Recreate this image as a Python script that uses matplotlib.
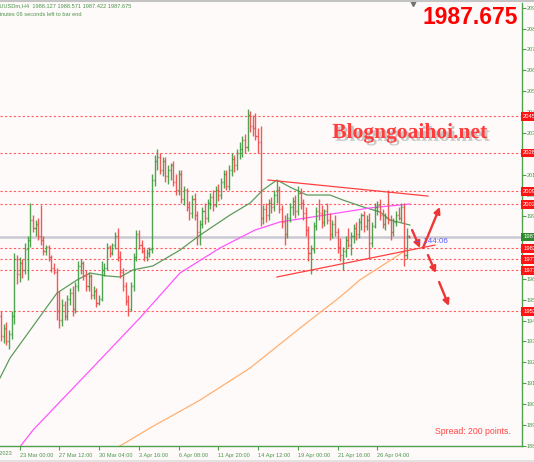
import matplotlib
matplotlib.use("Agg")
import matplotlib.pyplot as plt
import matplotlib.patheffects as pe
import numpy as np

# H4 bars (bar index 0 = first visible bar)
opens = [1950, 1940, 1944, 1938, 1941, 1950, 1977, 1970, 1975, 1972,
         1982, 1986, 1996, 1992, 1994, 1988, 1986, 1981, 1983, 1978,
         1973, 1971, 1952, 1948, 1955, 1950, 1958, 1961, 1953, 1964,
         1974, 1975, 1969, 1964, 1969, 1960, 1962, 1956, 1958, 1972,
         1973, 1983, 1980, 1984, 1988, 1978, 1971, 1964, 1957, 1953,
         1964, 1978, 1989, 1984, 1981, 1978, 1980, 1982, 2015, 2024,
         2026, 2020, 2024, 2017, 2020, 2022, 2014, 2010, 2018, 2006,
         2010, 2002, 1999, 2006, 1998, 1990, 1994, 2000, 1997, 2004,
         2007, 2003, 2010, 2008, 2014, 2018, 2012, 2020, 2025, 2022,
         2028, 2030, 2034, 2031, 2046, 2041, 2040, 2036, 2033, 1997,
         2001, 1998, 2004, 2002, 2008, 2010, 2001, 1995, 1989, 1997,
         2002, 2005, 2000, 2009, 2004, 1999, 1991, 1980, 1982, 1993,
         2000, 1999, 1995, 2000, 1996, 1989, 1994, 1990, 1983, 1979,
         1981, 1986, 1984, 1988, 1992, 1989, 1995, 1998, 1993, 1996,
         1985, 1993, 2002, 2003, 1998, 1994, 1997, 1996, 1990, 1995,
         1998, 1997, 2002, 1979, 1988.127]
highs = [1952, 1946, 1947, 1943, 1952, 1980, 1979, 1978, 1977, 1985,
         1988, 2004, 1998, 1996, 1997, 2003, 1988, 1984, 1984, 1979,
         1975, 1973, 1962, 1958, 1957, 1960, 1963, 1964, 1966, 1976,
         1977, 1976, 1972, 1971, 1970, 1964, 1963, 1960, 1976, 1975,
         1985, 1984, 1985, 1990, 1992, 1981, 1973, 1966, 1960, 1966,
         1980, 1991, 1991, 1986, 1983, 1982, 1983, 2018, 2027, 2030,
         2028, 2026, 2026, 2022, 2023, 2024, 2018, 2020, 2020, 2012,
         2011, 2005, 2008, 2009, 2000, 1996, 2002, 2004, 2006, 2009,
         2010, 2012, 2013, 2016, 2020, 2020, 2022, 2028, 2027, 2030,
         2033, 2036, 2037, 2049, 2048, 2046, 2047, 2040, 2041, 2003,
         2004, 2006, 2007, 2010, 2015, 2012, 2003, 1998, 1999, 2004,
         2007, 2008, 2012, 2011, 2006, 2002, 1993, 1984, 1995, 2002,
         2006, 2003, 2001, 2004, 1999, 1996, 1998, 1992, 1987, 1983,
         1988, 1992, 1990, 1994, 1995, 1997, 1999, 2000, 1998, 1999,
         1995, 2004, 2005, 2006, 2001, 1999, 2010, 1998, 1997, 2000,
         2002, 2004, 2004, 1992, 1988.571]
lows = [1938, 1937, 1936, 1934, 1939, 1946, 1965, 1966, 1968, 1970,
        1967, 1983, 1990, 1988, 1986, 1984, 1979, 1979, 1976, 1971,
        1970, 1948, 1944, 1945, 1948, 1948, 1955, 1950, 1951, 1962,
        1970, 1967, 1962, 1962, 1958, 1958, 1954, 1955, 1957, 1969,
        1972, 1978, 1979, 1982, 1976, 1968, 1962, 1955, 1950, 1952,
        1962, 1976, 1982, 1980, 1976, 1976, 1978, 1980, 2012, 2020,
        2018, 2017, 2014, 2013, 2015, 2012, 2008, 2008, 2004, 2003,
        2000, 1996, 1997, 1996, 1984, 1984, 1992, 1994, 1995, 2001,
        2000, 2002, 2005, 2006, 2011, 2010, 2010, 2017, 2019, 2020,
        2025, 2026, 2028, 2029, 2038, 2036, 2034, 2028, 1993, 1994,
        1995, 1996, 1999, 2000, 2004, 1999, 1992, 1984, 1987, 1995,
        1998, 1997, 1998, 2001, 1996, 1988, 1976, 1970, 1980, 1991,
        1996, 1992, 1993, 1994, 1986, 1987, 1988, 1980, 1976, 1972,
        1978, 1983, 1979, 1985, 1986, 1987, 1991, 1990, 1991, 1977,
        1983, 1992, 1998, 1996, 1992, 1991, 1994, 1986, 1988, 1993,
        1996, 1995, 1974, 1977, 1987.422]
closes = [1940, 1944, 1938, 1941, 1950, 1977, 1970, 1975, 1972, 1982,
          1986, 1996, 1992, 1994, 1988, 1986, 1981, 1983, 1978, 1973,
          1971, 1952, 1948, 1955, 1950, 1958, 1961, 1953, 1964, 1974,
          1975, 1969, 1964, 1969, 1960, 1962, 1956, 1958, 1972, 1973,
          1983, 1980, 1984, 1988, 1978, 1971, 1964, 1957, 1953, 1964,
          1978, 1989, 1984, 1981, 1978, 1980, 1982, 2015, 2024, 2026,
          2020, 2024, 2017, 2020, 2022, 2014, 2010, 2018, 2006, 2010,
          2002, 1999, 2006, 1998, 1990, 1994, 2000, 1997, 2004, 2007,
          2003, 2010, 2008, 2014, 2018, 2012, 2020, 2025, 2022, 2028,
          2030, 2034, 2031, 2046, 2041, 2040, 2036, 2033, 1997, 2001,
          1998, 2004, 2002, 2008, 2010, 2001, 1995, 1989, 1997, 2002,
          2005, 2000, 2009, 2004, 1999, 1991, 1980, 1982, 1993, 2000,
          1999, 1995, 2000, 1996, 1989, 1994, 1990, 1983, 1979, 1981,
          1986, 1984, 1988, 1992, 1989, 1995, 1998, 1993, 1996, 1985,
          1993, 2002, 2003, 1998, 1994, 1997, 1996, 1990, 1995, 1998,
          1997, 2002, 1979, 1988.127, 1987.675]

last_price = 1987.675

# time axis labels and the bar they sit on
first_label_bar = -8
first_label = "22 Mar 2023"
time_label_bars = [7, 22, 37, 52, 67, 82, 97, 112, 127, 142]
time_labels = ["23 Mar 00:00", "27 Mar 12:00", "30 Mar 04:00", "3 Apr 16:00",
               "6 Apr 08:00", "11 Apr 20:00", "14 Apr 12:00", "19 Apr 00:00",
               "21 Apr 16:00", "26 Apr 04:00"]

price_ticks = [1887.60, 1897.60, 1907.60, 1917.60, 1927.60, 1937.60, 1947.60,
               1957.60, 1967.60, 1977.60, 1987.60, 1997.60, 2007.60, 2017.60,
               2027.60, 2037.60, 2047.60, 2057.60, 2067.60, 2077.60, 2087.60,
               2097.60]

# horizontal support / resistance lines
level_prices = [2045.50, 2028.00, 2009.60, 2003.30, 1982.20, 1977.00, 1971.70, 1952.00]

# moving averages (sampled along the drawn lines)
ma_fast_bars = [-0.4, 3.4, 21.1, 28.7, 33.6, 40.0, 44.9, 49.8, 57.3, 67.5, 75.1,
                86.4, 94.0, 98.8, 104.1, 109.0, 115.4, 124.1, 129.0, 136.6,
                143.0, 146.8, 154.3]
ma_fast_vals = [1920.1, 1929.7, 1960.8, 1967.1, 1970.4, 1969.0, 1968.5, 1971.9,
                1973.8, 1981.4, 1988.6, 1998.2, 2004.0, 2010.2, 2015.0, 2011.6,
                2007.8, 2007.8, 2005.4, 2002.1, 1999.7, 1995.8, 1993.4]
ma_mid_bars = [4.9, 12.1, 37.3, 52.4, 67.5, 82.6, 95.8, 105.3, 117.7, 139.2, 154.3]
ma_mid_vals = [1883.4, 1895.2, 1928.7, 1948.9, 1970.4, 1982.4, 1991.0, 1994.9,
               1997.3, 2001.6, 2003.5]
ma_slow_bars = [39.2, 56.2, 75.1, 94.0, 112.8, 127.9, 135.4, 143.0, 152.4]
ma_slow_vals = [1883.2, 1896.1, 1909.5, 1924.9, 1944.0, 1958.9, 1967.1, 1973.3, 1981.0]

# triangle trend lines
upper_trend_bars = [100.7, 161.1]
upper_trend_vals = [2015.0, 2007.3]
lower_trend_bars = [104.1, 163.7]
lower_trend_vals = [1968.5, 1983.8]

# hand-drawn arrows: (bar, price) start -> end
arrow_from = [(155.1, 1991.0), (159.2, 1982.4), (161.1, 1979.0), (165.3, 1966.1)]
arrow_to = [(158.1, 1982.4), (165.6, 2002.1), (164.1, 1970.4), (169.0, 1954.6)]

countdown_pos = (155.6, 1985.6)
shift_bar = 155.5

BG = "#fffafa"
AXIS_GREEN = "#4f9f4f"
LABEL_GREEN = "#4a944a"
UP = "#3d9a3d"
DOWN = "#f04848"
SANS = ["Liberation Sans", "DejaVu Sans"]

fig = plt.figure(figsize=(5.34, 4.62), dpi=100, facecolor=BG)
ax = fig.add_axes([0, 1 - 446 / 462, 522 / 534, 443 / 462])
ax.set_facecolor(BG)

# ticks first, limits afterwards (set_ticks would widen the view)
ax.yaxis.tick_right()
ax.set_yticks(price_ticks)
ax.set_yticklabels([f"{t:.2f}" for t in price_ticks], family=SANS)
ax.set_xticks(time_label_bars)
ax.set_xticklabels(time_labels, ha="left", family=SANS)
ax.tick_params(axis="y", colors=AXIS_GREEN, labelcolor=LABEL_GREEN,
               labelsize=4.0, length=3, width=0.8, pad=0.6)
ax.tick_params(axis="x", colors=AXIS_GREEN, labelcolor=LABEL_GREEN,
               labelsize=4.1, length=3, width=0.8, pad=2)

ax.set_xlim(-0.4, -0.4 + 522 / 2.65)
ax.set_ylim(1887.48, 2099.85)

ax.text(first_label_bar, -0.012, first_label, transform=ax.get_xaxis_transform(),
        ha="left", va="top", fontsize=4.1, color=LABEL_GREEN, family=SANS,
        clip_on=False)

# levels
for lvl in level_prices:
    ax.axhline(lvl, color="#ff5c5c", lw=0.8, ls=(0, (2, 2)), zorder=1)
    ax.text(1.002, lvl, f"{lvl:.2f}", transform=ax.get_yaxis_transform(),
            ha="left", va="center", fontsize=4.2, color="white", clip_on=False,
            family=SANS,
            bbox=dict(boxstyle="square,pad=0.3", fc="#ff1414", ec="none"), zorder=6)

# bid line
ax.axhline(last_price, color="#c9c9d3", lw=1.8, zorder=1)
ax.text(1.002, last_price, f"{last_price:.2f}", transform=ax.get_yaxis_transform(),
        ha="left", va="center", fontsize=4.2, color="white", clip_on=False,
        family=SANS,
        bbox=dict(boxstyle="square,pad=0.3", fc="#2f8a2f", ec="none"), zorder=6)

# moving averages
ax.plot(ma_fast_bars, ma_fast_vals, color="#5c9c5c", lw=0.9, zorder=2)
ax.plot(ma_mid_bars, ma_mid_vals, color="#ff55ff", lw=0.9, zorder=2)
ax.plot(ma_slow_bars, ma_slow_vals, color="#ffb070", lw=0.9, zorder=2)

# OHLC bars
o = np.array(opens)
h = np.array(highs)
l = np.array(lows)
c = np.array(closes)
x = np.arange(len(o))
cols = np.where(c >= o, UP, DOWN)
ax.vlines(x, l, h, colors=cols, lw=1.0, alpha=0.9, zorder=3)
ax.hlines(o, x - 0.4, x, colors=cols, lw=1.0, alpha=0.9, zorder=3)
ax.hlines(c, x, x + 0.4, colors=cols, lw=1.0, alpha=0.9, zorder=3)

# triangle
ax.plot(upper_trend_bars, upper_trend_vals, color="#ff4040", lw=0.9, zorder=4)
ax.plot(lower_trend_bars, lower_trend_vals, color="#ff4040", lw=0.9, zorder=4)

# arrows
for s, e in zip(arrow_from, arrow_to):
    ax.annotate("", xy=e, xytext=s,
                arrowprops=dict(arrowstyle="-|>", color="#ee3535", lw=1.7,
                                mutation_scale=9, shrinkA=0, shrinkB=0), zorder=5)

ax.text(countdown_pos[0], countdown_pos[1], "← 144:06", color="#5a5aff",
        fontsize=5.8, ha="left", va="center", zorder=5, family=SANS)

# chart shift marker
ax.plot([shift_bar], [ax.get_ylim()[1]], marker="v", ms=4.5, color="#707070",
        clip_on=False, zorder=6)

# axes styling
for side in ["left", "top"]:
    ax.spines[side].set_visible(False)
for side in ["right", "bottom"]:
    ax.spines[side].set_color(AXIS_GREEN)
    ax.spines[side].set_linewidth(1.0)

# overlay texts
fig.text(-7.5 / 534, 1 - 5.5 / 462, "XAUUSDm,H4  1988.127 1988.571 1987.422 1987.675",
         fontsize=4.1, color=LABEL_GREEN, va="center", ha="left", family=SANS)
fig.text(-4.8 / 534, 1 - 15 / 462, "minutes 06 seconds left to bar end",
         fontsize=4.1, color=LABEL_GREEN, va="center", ha="left", family=SANS)
fig.text(518 / 534, 1 - 17 / 462, "1987.675", fontsize=16.5, fontweight="bold",
         color="#ff0000", ha="right", va="center", family=SANS)
fig.text(410 / 534, 1 - 133 / 462, "Blogngoaihoi.net", fontsize=15.5, fontweight="bold",
         color="#ff3c3c", ha="center", va="center", family=["Liberation Serif"],
         path_effects=[pe.withSimplePatchShadow(offset=(2, -2), shadow_rgbFace="#888888",
                                                alpha=0.45)])
fig.text(473 / 534, 1 - 431 / 462, "Spread: 200 points.", fontsize=6.3,
         color="#ff4444", ha="center", va="center", family=SANS)

fig.add_artist(plt.Line2D([0, 1], [1 - 1 / 462, 1 - 1 / 462], color="#c4c4c4",
                          lw=1.5, transform=fig.transFigure))
fig.add_artist(plt.Line2D([0, 1], [1 / 462, 1 / 462], color="#e2e2e2",
                          lw=1.5, transform=fig.transFigure))

fig.savefig("out.png", dpi=100, facecolor=BG)
